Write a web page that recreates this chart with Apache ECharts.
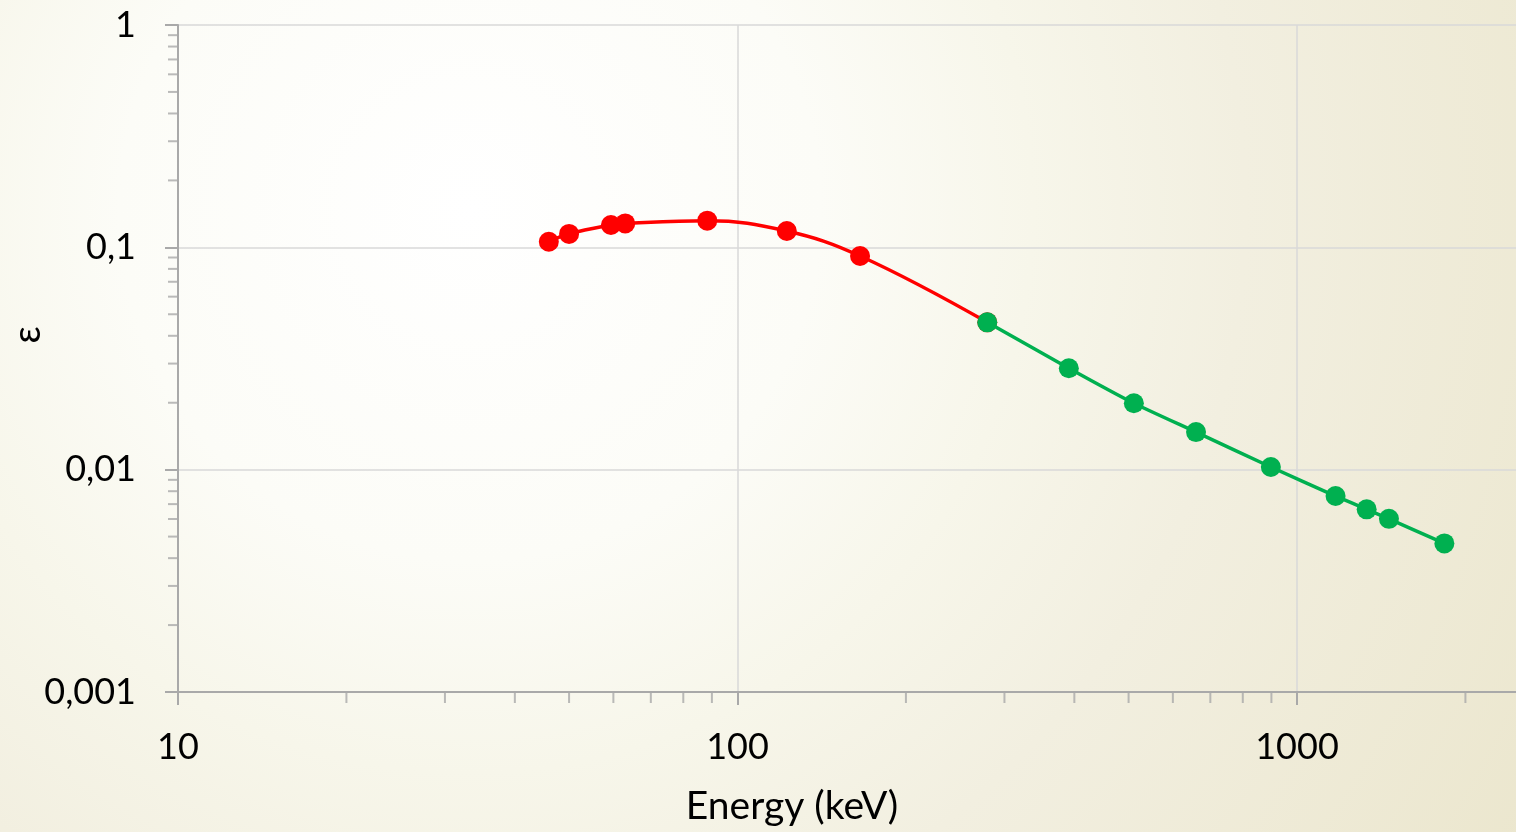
<!DOCTYPE html>
<html>
<head>
<meta charset="utf-8">
<script src="https://cdn.jsdelivr.net/npm/echarts@6/dist/echarts.min.js"></script>
<style>
  html, body { margin: 0; padding: 0; }
  body {
    width: 1516px; height: 832px; overflow: hidden;
    background: radial-gradient(circle 1250px at 470px 210px, #ffffff 0%, #fcfcf7 28%, #f7f6ea 45%, #f2efe0 62%, #ebe6cd 100%);
  }
  #chart { width: 1516px; height: 832px; }
</style>
</head>
<body>
<div id="chart"></div>
<script>
// ---- data ----
const redEnergy = [46.0, 50.0, 59.4, 63.0, 88.3, 122.5, 165.6];
const redEff    = [0.106, 0.1149, 0.126, 0.1281, 0.1318, 0.1184, 0.0914];
const greenEnergy = [279.5, 391, 511, 660, 898, 1172, 1332, 1460, 1834];
const greenEff    = [0.046, 0.0286, 0.0199, 0.01476, 0.01028, 0.00761, 0.00663, 0.00601, 0.00466];
const xTickLabels = ['10', '100', '1000', '10000'];
const yTickLabels = ['0,001', '0,01', '0,1', '1'];
const xMinorTicks = [20,30,40,50,60,70,80,90,200,300,400,500,600,700,800,900,2000,3000,4000,5000,6000,7000,8000,9000];
const yMinorTicks = [];
[0.001, 0.01, 0.1].forEach(d => { for (let k = 2; k <= 9; k++) yMinorTicks.push(+(d * k).toPrecision(3)); });
const xName = 'Energy (keV)';
const yName = 'ε';

// ---- chart ----
const FONT = 'Lato';
const chart = echarts.init(document.getElementById('chart'), null, { renderer: 'canvas' });

const redLine = redEnergy.map((e, i) => [e, redEff[i]]);
redLine.push([greenEnergy[0], greenEff[0]]); // red fit continues to first green point
const greenPts = greenEnergy.map((e, i) => [e, greenEff[i]]);

const option = {
  backgroundColor: 'transparent',
  animation: false,
  grid: { left: 178, top: 25, width: 1678.5, height: 667, containLabel: false, outerBoundsMode: 'none' },
  xAxis: {
    type: 'log', logBase: 10, min: 10, max: 10000, interval: 1,
    axisLine: { show: true, lineStyle: { color: '#a9a9a9', width: 2 } },
    axisTick: { show: true, length: 13, lineStyle: { color: '#a9a9a9', width: 2 } },
    axisLabel: {
      color: '#000', fontFamily: FONT, fontSize: 36, margin: 37,
      formatter: v => xTickLabels[Math.round(Math.log10(v)) - 1] || ''
    },
    splitLine: { show: true, lineStyle: { color: '#d9d9d9', width: 1.5 } }
  },
  yAxis: {
    type: 'log', logBase: 10, min: 0.001, max: 1, interval: 1,
    axisLine: { show: true, lineStyle: { color: '#a9a9a9', width: 2 } },
    axisTick: { show: true, length: 13, lineStyle: { color: '#a9a9a9', width: 2 } },
    axisLabel: {
      color: '#000', fontFamily: FONT, fontSize: 36, margin: 42,
      formatter: v => yTickLabels[Math.round(Math.log10(v)) + 3] || ''
    },
    splitLine: { show: true, lineStyle: { color: '#d9d9d9', width: 1.5 } }
  },
  graphic: [
    { type: 'text', x: 792, y: 806, style: { text: xName, font: '39px ' + FONT, fill: '#000', textAlign: 'center', textVerticalAlign: 'middle' } },
    { type: 'text', x: 28, y: 335, rotation: Math.PI / 2, style: { text: yName, font: '38px ' + FONT, fill: '#000', textAlign: 'center', textVerticalAlign: 'middle' } }
  ],
  series: [
    {
      type: 'scatter', silent: true, clip: false, z: 1,
      data: xMinorTicks.map(v => [v, 0.001]),
      symbol: 'rect', symbolSize: [2, 11], symbolOffset: [0, 5.5],
      itemStyle: { color: '#a9a9a9' }
    },
    {
      type: 'scatter', silent: true, clip: false, z: 1,
      data: yMinorTicks.map(v => [10, v]),
      symbol: 'rect', symbolSize: [10, 2], symbolOffset: [-5, 0],
      itemStyle: { color: '#a9a9a9' }
    },
    {
      type: 'line', data: redLine, smooth: 0.4, z: 3,
      lineStyle: { color: '#ff0000', width: 3.5 },
      symbol: 'circle', symbolSize: 20, showSymbol: true,
      itemStyle: { color: '#ff0000' }
    },
    {
      type: 'line', data: greenPts, smooth: 0.2, z: 4,
      lineStyle: { color: '#00b050', width: 3.5 },
      symbol: 'circle', symbolSize: 20,
      itemStyle: { color: '#00b050' }
    }
  ]
};
chart.setOption(option);
</script>
</body>
</html>
